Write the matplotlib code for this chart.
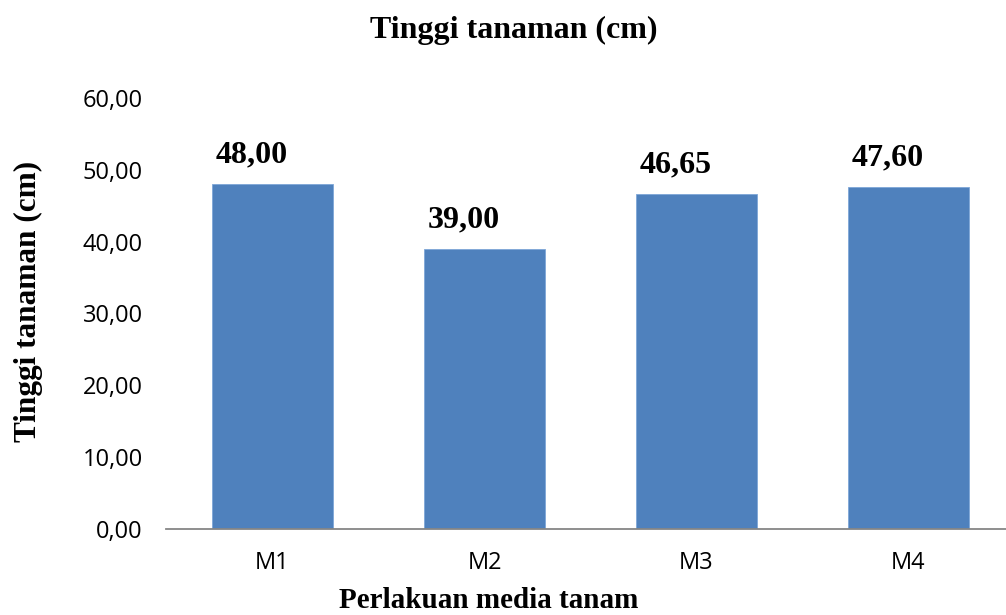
import matplotlib
matplotlib.use("Agg")
import matplotlib.pyplot as plt

categories = ["M1", "M2", "M3", "M4"]
heights = [48.00, 39.00, 46.65, 47.60]
value_labels = ["48,00", "39,00", "46,65", "47,60"]
y_ticks = [0, 10, 20, 30, 40, 50, 60]
y_tick_labels = ["0,00", "10,00", "20,00", "30,00", "40,00", "50,00", "60,00"]

serif = "Liberation Serif"
sans = "Open Sans"

fig = plt.figure(figsize=(10.06, 6.15), dpi=100)
ax = fig.add_axes([0.1655, 0.1398, 0.843, 0.7009])

x = range(len(categories))
bars = ax.bar(x, heights, width=0.57, color="#4F81BD", edgecolor="#7EA6D8", linewidth=0.6)

# data labels sit a bit left of bar centre, like the original
for xi, h, lab in zip(x, heights, value_labels):
    ax.text(xi - 0.1, h + 3.0, lab, ha="center", va="baseline",
            fontfamily=serif, fontweight="bold", fontsize=23)

ax.set_xlim(-0.5, len(categories) - 0.5)
ax.set_ylim(0, 60)
ax.set_yticks(y_ticks)
ax.set_yticklabels(y_tick_labels, fontfamily=sans, fontsize=17)
ax.set_xticks(list(x))
ax.set_xticklabels(categories, fontfamily=sans, fontsize=17)
ax.tick_params(axis="both", length=0)
ax.tick_params(axis="y", pad=17)
ax.tick_params(axis="x", pad=16)

for side in ["top", "right", "left"]:
    ax.spines[side].set_visible(False)
ax.spines["bottom"].set_color("#868686")
ax.spines["bottom"].set_linewidth(1.3)

ax.set_ylabel("Tinggi tanaman (cm)", fontfamily=serif, fontweight="bold", fontsize=22.5)
ax.yaxis.set_label_coords(-0.146, 0.527)
ax.set_xlabel("Perlakuan media tanam", fontfamily=serif, fontweight="bold", fontsize=21)
ax.xaxis.set_label_coords(0.38, -0.134)
fig.text(0.5105, 0.951, "Tinggi tanaman (cm)", ha="center", va="center",
         fontfamily=serif, fontweight="bold", fontsize=23)

fig.savefig("out.png", dpi=100)
